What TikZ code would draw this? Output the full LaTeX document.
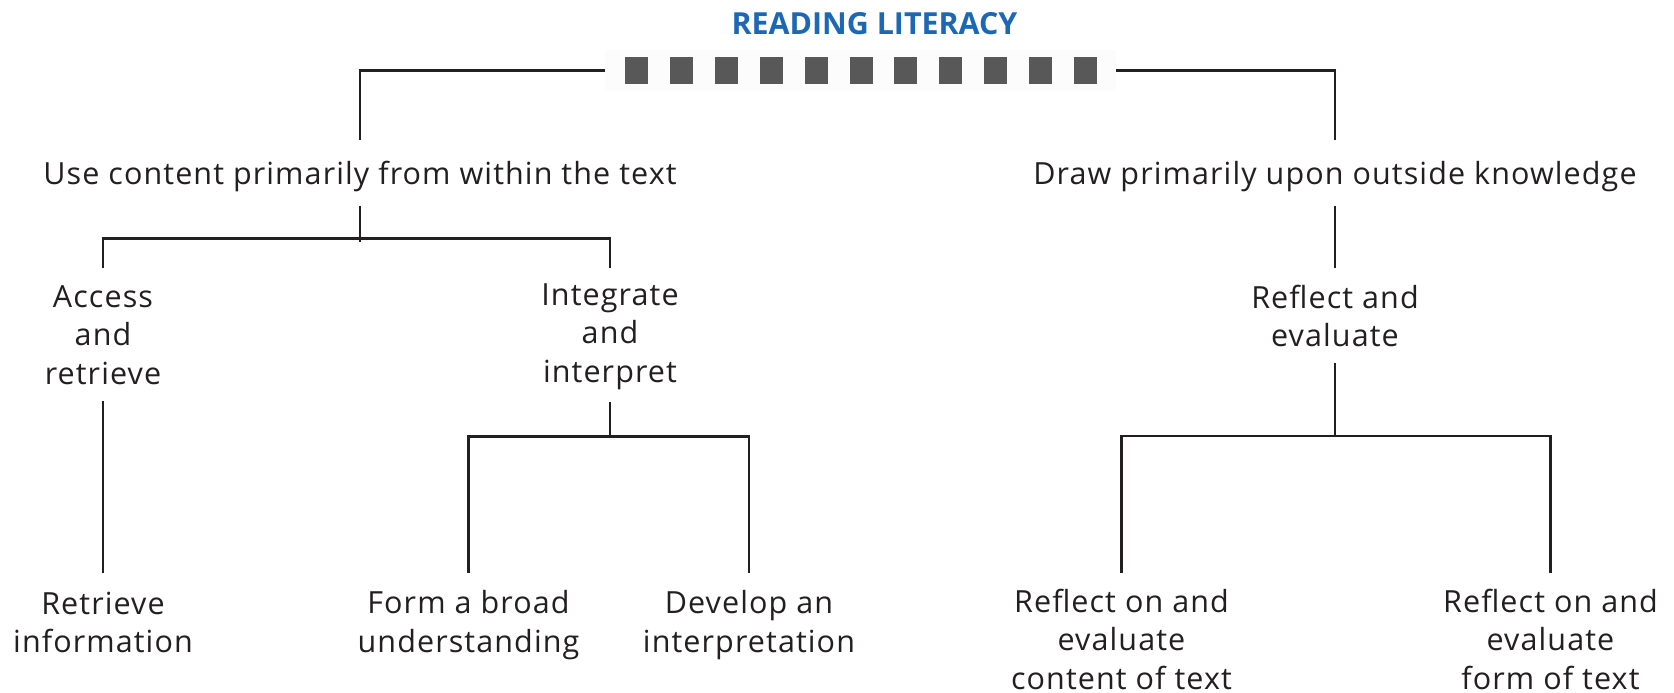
\documentclass[tikz,border=0pt]{standalone}
\usepackage{fontspec}
\setmainfont{Open Sans}[LetterSpace=3.6]
\newfontfamily\ttlfont{Open Sans}
\usetikzlibrary{calc}
\definecolor{ink}{HTML}{231F20}
\definecolor{ttlblue}{HTML}{1C68B4}
\definecolor{sqgray}{HTML}{585858}
\definecolor{barbg}{HTML}{FCFCFC}
\newcommand{\mlines}[1]{\begin{tabular}[t]{@{}c@{}}#1\end{tabular}}
\begin{document}
\begin{tikzpicture}[x=1pt,y=-1pt,
  lbl/.style={inner sep=0pt, outer sep=0pt, anchor=base, text=ink, font=\fontsize{30.5}{38.5}\selectfont},
  link/.style={draw=ink, line width=2.6pt},
  ttl/.style={inner sep=0pt, anchor=base, text=ttlblue, font=\ttlfont\bfseries\fontsize{30.4}{36}\selectfont},
  barbox/.style={fill=barbg, minimum width=511pt, minimum height=41pt, inner sep=0pt, outer sep=0pt},
  sqr/.style={fill=sqgray}]

\path[fill=white, use as bounding box] (0,0) rectangle (1674,693);

\node[ttl] (title) at (874.5,35) {READING LITERACY};
\node[barbox] (bar) at (860.5,70.5) {};
\foreach \i in {0,...,10}
  \fill[sqr] ($(bar.center)+(-235.5+44.9*\i,-13.3)$) rectangle ++(23,26.6);

\node[lbl, text height=44pt, text depth=21.5pt] (L1) at (360,184) {Use content primarily from within the text};
\node[lbl, text height=44pt, text depth=21.5pt] (R1) at (1335,184) {Draw primarily upon outside knowledge};
\node[lbl, text height=39pt, text depth=94pt] (AR) at (103,307) {\mlines{Access\\and\\retrieve}};
\node[lbl, text height=37pt, text depth=97pt] (II) at (610,305) {\mlines{Integrate\\and\\interpret}};
\node[lbl, text height=40pt, text depth=55pt] (RE) at (1335,308) {\mlines{Reflect and\\evaluate}};
\node[lbl, text height=41pt, text depth=40pt] (RI) at (103,614) {\mlines{Retrieve\\information}};
\node[lbl, text height=40.5pt, text depth=40pt] (FB) at (468.5,613.5) {\mlines{Form a broad\\understanding}};
\node[lbl, text height=40.5pt, text depth=40pt] (DI) at (749,613.5) {\mlines{Develop an\\interpretation}};
\node[lbl, text height=39pt, text depth=78pt] (RC) at (1121.5,612) {\mlines{Reflect on and\\evaluate\\content of text}};
\node[lbl, text height=39pt, text depth=78pt] (RF) at (1550.5,612) {\mlines{Reflect on and\\evaluate\\form of text}};

\coordinate (jL) at (360,238.5);
\coordinate (jI) at (610,436.5);
\coordinate (jR) at (1335,436);

\draw[link] (bar.west) -| (L1.north);
\draw[link] (bar.east) -| (R1.north);
\draw[link] (L1.south) -- ([yshift=-3.5pt]jL);
\draw[link] (AR.north) |- (jL) -| (II.north);
\draw[link] (AR.south) -- (RI.north);
\draw[link] (II.south) -- (jI);
\draw[link] (FB.north) |- (jI) -| (DI.north);
\draw[link] (R1.south) -- (RE.north);
\draw[link] (RE.south) -- (jR);
\draw[link] (RC.north) |- (jR) -| (RF.north);
\end{tikzpicture}
\end{document}
